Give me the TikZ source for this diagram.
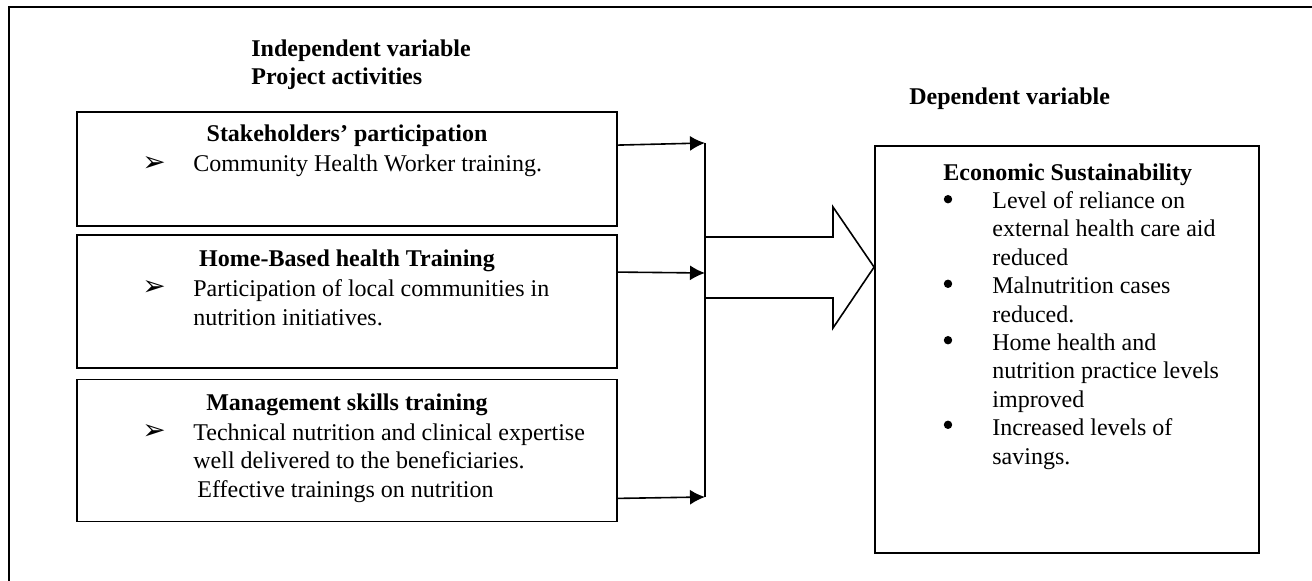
\documentclass[tikz,border=0pt]{standalone}
\usepackage{fontspec}
\setmainfont{Liberation Serif}
\newfontfamily\dejavu{DejaVu Sans}
\usetikzlibrary{arrows.meta}
\tikzstyle{actbox} = [draw, line width=0.9pt, minimum width=270pt, inner sep=0pt]
\tikzstyle{txt} = [inner sep=0pt, align=left, anchor=north west, font=\fontsize{12}{14.2}\selectfont]
\tikzstyle{head} = [inner sep=0pt, anchor=base, font=\fontsize{12}{14.2}\selectfont\bfseries]
\tikzstyle{conn} = [line width=0.8pt, -{Latex[length=7.5pt,width=7.5pt]}]
\tikzstyle{blt} = [circle, fill=black, inner sep=0pt, minimum size=4.2pt]
\newcommand{\arw}{{\dejavu\fontsize{14}{14}\selectfont ➢}}

\begin{document}
\begin{tikzpicture}[x=0.5pt, y=-0.5pt]%
	\useasboundingbox (0,0) rectangle (1312,581);%
	\draw[line width=1pt] (9,7) rectangle (1340,620);%
	% titles
	\node[txt, font=\fontsize{12}{14}\selectfont\bfseries] (indep) at (251,39) {Independent variable\\Project activities};%
	\node[head, anchor=base west] (dep) at (909,105) {Dependent variable};%
	% project activities
	\node[actbox, minimum height=57pt] (stake) at (347,169) {};%
	\node[actbox, minimum height=66.5pt] (home) at (347,301.5) {};%
	\node[actbox, minimum height=71pt] (mgmt) at (347,450.5) {};%
	\node[head] (stakeh) at (347,142) {Stakeholders’ participation};%
	\node[anchor=base, inner sep=0pt] (stakeb) at (154,172) {\arw};%
	\node[txt] (staket) at (193,154.5) {Community Health Worker training.};%
	\node[head] (homeh) at (347,267) {Home-Based health Training};%
	\node[anchor=base, inner sep=0pt] (homeb) at (154,296) {\arw};%
	\node[txt] (homet) at (193,279.5) {Participation of local communities in\\nutrition initiatives.};%
	\node[head] (mgmth) at (347,411) {Management skills training};%
	\node[anchor=base, inner sep=0pt] (mgmtb) at (154,440) {\arw};%
	\node[txt] (mgmtt) at (193,423.5) {Technical nutrition and clinical expertise\\well delivered to the beneficiaries.\\\hspace*{2pt}Effective trainings on nutrition};%
	% dependent variable
	\node[draw, line width=0.9pt, minimum width=192pt, minimum height=203.5pt, inner sep=0pt] (econ) at (1067,349.5) {};%
	\node[txt, font=\fontsize{12}{14.2}\selectfont\bfseries] (econh) at (943,163) {Economic Sustainability};%
	\node[txt] (econt) at (992,191.2) {Level of reliance on\\external health care aid\\reduced\\Malnutrition cases\\reduced.\\Home health and\\nutrition practice levels\\improved\\Increased levels of\\savings.};%
	\foreach \y [count=\i] in {207.2,291.8,348.2,432.8}%
		\node[blt] (dot\i) at (948,\y-8) {};%
	% connectors
	\coordinate (b1) at (705,143);%
	\coordinate (b2) at (705,273);%
	\coordinate (b3) at (705,497);%
	\coordinate (tip) at ([yshift=-61pt]econ.north west);%
	\draw[conn] ([yshift=-17pt]stake.north east) -- (b1);%
	\draw[conn] ([yshift=-19pt]home.north east) -- (b2);%
	\draw[conn] ([yshift=12pt]mgmt.south east) -- (b3);%
	\draw[line width=0.8pt] (b1) -- (b3);%
	\draw[line width=0.8pt, line join=miter] (705,237) -- (833,237) -- (833,207) -- (tip) -- (833,328) -- (833,298) -- (705,298);%
\end{tikzpicture}
\end{document}
